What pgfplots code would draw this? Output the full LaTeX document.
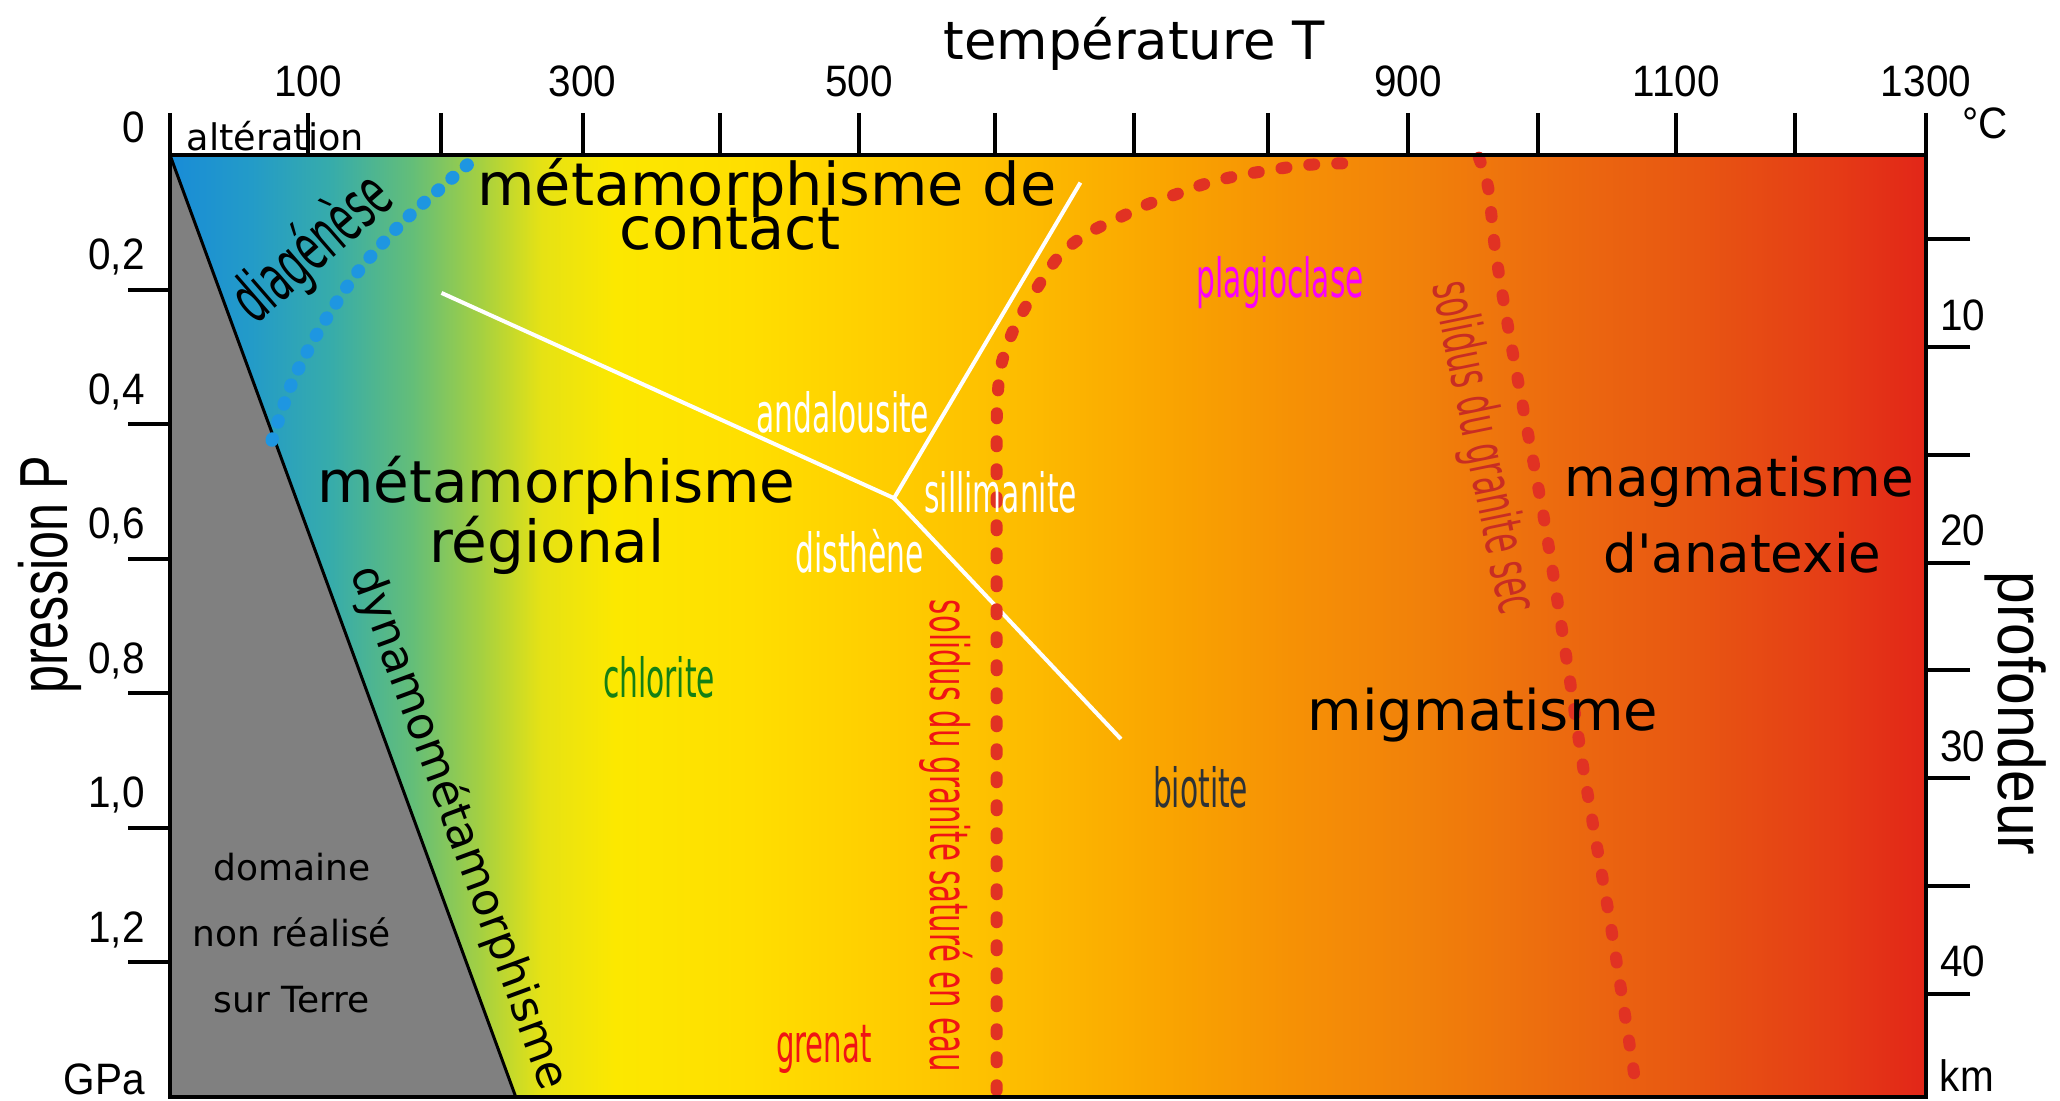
\documentclass[border=0pt]{standalone}
\usepackage{fontspec}
\setmainfont{DejaVu Sans}
\newfontfamily\condfont[FakeStretch=0.55]{DejaVu Sans}
\newfontfamily\tickfont[FakeStretch=0.92]{Liberation Sans}
\newfontfamily\presfont[FakeStretch=0.74]{Liberation Sans}
\newfontfamily\proffont[FakeStretch=0.89]{Liberation Sans}
\newfontfamily\nomap[Ligatures=TeXOff]{DejaVu Sans}
\usepackage{pgfplots}
\pgfplotsset{compat=1.18}

\newcommand\fs[1]{\fontsize{#1pt}{#1pt}\selectfont}
\newcommand\tlab[1]{\mbox{\tickfont\fs{22}#1}}

\definecolor{s0}{RGB}{25,140,215}
\definecolor{s1}{RGB}{35,155,200}
\definecolor{s2}{RGB}{55,172,170}
\definecolor{s3}{RGB}{100,190,120}
\definecolor{s4}{RGB}{165,208,65}
\definecolor{s5}{RGB}{230,226,20}
\definecolor{s6}{RGB}{252,232,0}
\definecolor{s7}{RGB}{255,222,0}
\definecolor{s8}{RGB}{255,205,0}
\definecolor{s9}{RGB}{253,188,0}
\definecolor{s10}{RGB}{250,166,0}
\definecolor{s11}{RGB}{246,145,5}
\definecolor{s12}{RGB}{241,128,10}
\definecolor{s13}{RGB}{236,106,15}
\definecolor{s14}{RGB}{232,86,18}
\definecolor{s15}{RGB}{229,60,22}
\definecolor{s16}{RGB}{226,38,24}
\definecolor{grayreg}{RGB}{128,128,128}
\definecolor{dotblue}{RGB}{30,150,225}
\definecolor{dotred}{RGB}{225,50,35}
\definecolor{chlor}{RGB}{20,128,20}
\definecolor{txtred}{RGB}{240,20,20}
\definecolor{secred}{RGB}{200,45,35}
\definecolor{biot}{RGB}{45,50,55}
\definecolor{plag}{RGB}{250,0,250}

% temperature T mapped to 25bp..75bp : bp = 25 + T/26
\pgfdeclarehorizontalshading{bgshade}{100bp}{%
color(0bp)=(s0); color(25bp)=(s0); color(27.31bp)=(s1); color(29.62bp)=(s2);
color(31.92bp)=(s3); color(33.85bp)=(s4); color(35.58bp)=(s5); color(37.69bp)=(s6);
color(41.54bp)=(s7); color(45.38bp)=(s8); color(49.23bp)=(s9); color(53.08bp)=(s10);
color(56.92bp)=(s11); color(60.77bp)=(s12); color(64.62bp)=(s13); color(68.46bp)=(s14);
color(72.31bp)=(s15); color(75bp)=(s16); color(100bp)=(s16)}

\begin{document}
\begin{tikzpicture}
\useasboundingbox (-85pt,-2pt) rectangle (945pt,548.5pt);
\begin{axis}[
  at={(0,0)}, anchor=south west,
  scale only axis, width=878pt, height=471pt,
  xmin=0, xmax=1300, ymin=0, ymax=1.4, y dir=reverse,
  clip=false, axis on top,
  axis line style={line width=1.75pt},
  tick align=outside,
  major tick length=21pt,
  tick style={black, line width=2pt},
  xtick pos=right, xticklabel pos=right,
  ytick pos=left, yticklabel pos=left,
  xtick={0,102,200.5,305.5,407,510,611,713.5,812.5,916.5,1013,1115,1203,1300},
  xticklabels={,\tlab{100},,\tlab{300},,\tlab{500},,,,\tlab{900},,\tlab{1100},,\tlab{1300}},
  ytick={0.2,0.4,0.6,0.8,1.0,1.2},
  yticklabels={\tlab{0,2},\tlab{0,4},\tlab{0,6},\tlab{0,8},\tlab{1,0},\tlab{1,2}},
  xticklabel style={anchor=base, inner sep=0pt, yshift=8pt},
  yticklabel style={anchor=base east, inner sep=0pt, xshift=8.5pt, yshift=10pt},
]
% background gradient
\addplot[draw=none, shade, shading=bgshade, forget plot] coordinates {(0,0) (1300,0) (1300,1.4) (0,1.4)} -- cycle;
% domaine non realise
\addplot[fill=grayreg, draw=none, forget plot] coordinates {(0,0) (256,1.4) (0,1.4)} -- cycle;
\addplot[black, line width=1.5pt, forget plot] coordinates {(0,0) (256,1.4)};
% diagenese limit
\addplot[dotblue, line width=6.5pt, line cap=round, dash pattern=on 0.8pt off 8.7pt, smooth, forget plot]
  coordinates {(75.5,0.424) (90,0.34) (110,0.262) (138.5,0.175) (171.7,0.101) (201,0.048) (226,0.0045)};
% Al2SiO5 triple point
\addplot[white, line width=2pt, line join=round, forget plot] coordinates {(201,0.205) (536,0.510) (674,0.041)};
\addplot[white, line width=2pt, forget plot] coordinates {(536,0.510) (704,0.868)};
% solidus du granite sature en eau
\addplot[dotred, line width=6pt, line cap=round, dash pattern=on 2.5pt off 11.5pt, smooth, tension=0.5, forget plot]
  coordinates {(612,1.39) (612,0.9) (612,0.42) (613,0.35) (616,0.307) (624,0.262) (636,0.217) (657,0.153) (678,0.118) (704,0.092) (724,0.073) (744,0.059) (766,0.043) (790,0.031) (813,0.023) (836,0.016) (856,0.013) (884,0.012)};
% solidus du granite sec
\addplot[dotred, line width=6pt, line cap=round, dash pattern=on 2.5pt off 11.5pt, smooth, forget plot]
  coordinates {(969,0.004) (976,0.05) (981,0.14) (991,0.26) (1004,0.4) (1018,0.55) (1034,0.75) (1047,0.92) (1067,1.15) (1085,1.38)};

% labels
\node[anchor=base, inner sep=0pt] at (713.7,-0.1412) {\fs{26.4}température T};
\node[anchor=base, inner sep=0pt] at (1344,-0.025) {\tlab{°C}};
\node[anchor=base east, inner sep=0pt] at (-18.5,-0.019) {\tlab{0}};
\node[anchor=base east, inner sep=0pt] at (-18.5,1.397) {\tlab{GPa}};
\node[anchor=base west, inner sep=0pt] at (1310,1.3925) {\tlab{km}};
\node[rotate=90, inner sep=0pt] at (-89.2,0.624) {\presfont\fs{34}pression P};
\node[rotate=-90, inner sep=0pt] at (1366.6,0.830) {\proffont\fs{33}profondeur};

\node[anchor=base, inner sep=0pt] at (78,-0.0074) {\fs{18.3}altération};
\node[anchor=base, inner sep=0pt] at (442,0.0758) {\fs{29.5}métamorphisme de};
\node[anchor=base, inner sep=0pt] at (414.6,0.141) {\fs{29.5}contact};
\node[anchor=base, inner sep=0pt] at (286,0.516) {\fs{29}métamorphisme};
\node[anchor=base, inner sep=0pt] at (279,0.606) {\fs{29}régional};
\node[anchor=base, inner sep=0pt] at (972,0.8546) {\fs{28}migmatisme};
\node[anchor=base, inner sep=0pt] at (1161.6,0.508) {\fs{26.5}magmatisme};
\node[anchor=base, inner sep=0pt] at (1164,0.62) {\nomap\fs{26.5}d'anatexie};
\node[anchor=base, inner sep=0pt] at (90.3,1.0775) {\fs{18}domaine};
\node[anchor=base, inner sep=0pt] at (90.3,1.177) {\fs{18}non réalisé};
\node[anchor=base, inner sep=0pt] at (90.3,1.275) {\fs{18}sur Terre};
\node[rotate=-69.8, inner sep=0pt] at (214,1.0) {\fs{22.5}dynamométamorphisme};
\node[rotate=41, inner sep=0pt] at (106,0.14) {\condfont\fs{33}diagénèse};

\node[anchor=base, inner sep=0pt, text=white] at (498,0.412) {\condfont\fs{27}andalousite};
\node[anchor=base, inner sep=0pt, text=white] at (615,0.532) {\condfont\fs{27}sillimanite};
\node[anchor=base, inner sep=0pt, text=white] at (510.6,0.621) {\condfont\fs{27}disthène};
\node[anchor=base, inner sep=0pt, text=chlor] at (362,0.807) {\condfont\fs{27}chlorite};
\node[anchor=base, inner sep=0pt, text=txtred] at (484,1.348) {\condfont\fs{26.5}grenat};
\node[anchor=base, inner sep=0pt, text=biot] at (763,0.969) {\condfont\fs{27}biotite};
\node[anchor=base, inner sep=0pt, text=plag] at (822,0.2125) {\condfont\fs{27}plagioclase};
\node[rotate=-90, inner sep=0pt, text=txtred] at (574.5,1.012) {\condfont\fs{26.5}solidus du granite saturé en eau};
\node[rotate=-78.4, inner sep=0pt, text=secred] at (971,0.435) {\condfont\fs{28}solidus du granite sec};
\end{axis}
\begin{axis}[
  at={(0,0)}, anchor=south west,
  scale only axis, width=878pt, height=471pt,
  xmin=0, xmax=1300, ymin=1.09, ymax=44.8, y dir=reverse,
  axis x line=none, axis y line*=right,
  axis line style={line width=1.75pt},
  ytick align=outside, major tick length=22pt,
  tick style={black, line width=2pt},
  ytick={5,10,15,20,25,30,35,40},
  yticklabels={,\tlab{10},,\tlab{20},,\tlab{30},,\tlab{40}},
  yticklabel style={anchor=base west, inner sep=0pt, xshift=-15pt, yshift=8.5pt},
]
\end{axis}
\end{tikzpicture}
\end{document}
